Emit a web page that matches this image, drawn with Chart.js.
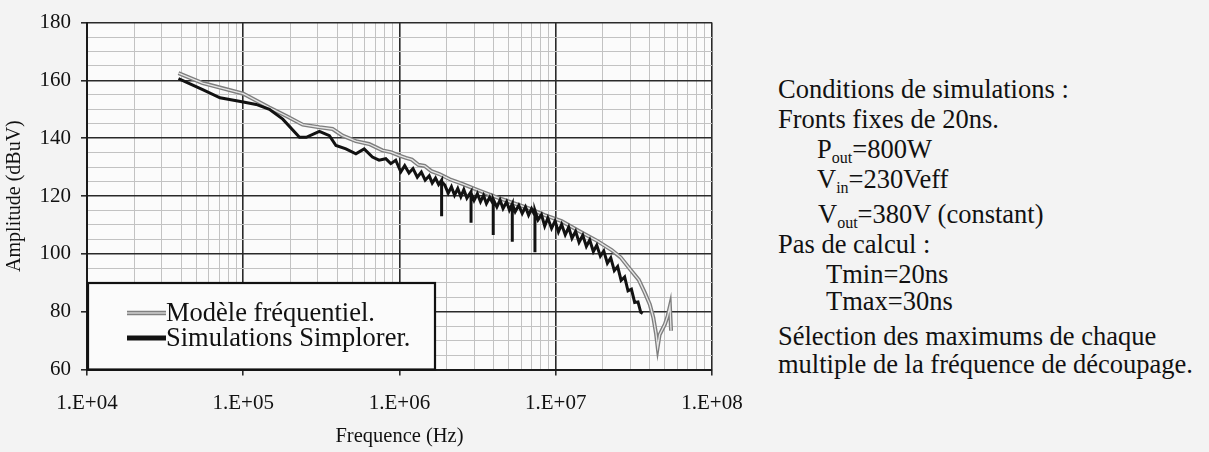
<!DOCTYPE html>
<html>
<head>
<meta charset="utf-8">
<script src="https://cdn.jsdelivr.net/npm/chart.js@4"></script>
<style>
  body { margin: 0; background: #f3f3f3; width: 1209px; height: 452px; overflow: hidden; font-family: 'Liberation Serif', 'Times New Roman', serif; }
  #wrap { position: absolute; left: 0; top: 0; width: 760px; height: 452px; }
  .note { position: absolute; font-size: 26.5px; line-height: 26.5px; color: #111; white-space: nowrap; }
  .note .s { font-size: 16px; position: relative; top: 5px; }
</style>
</head>
<body>
<div id="wrap"><canvas id="emc"></canvas></div>

<div class="note" style="left:778px; top:76px;">Conditions de simulations :</div>
<div class="note" style="left:778px; top:106px;">Fronts fixes de 20ns.</div>
<div class="note" style="left:817px; top:136px;">P<span class="s">out</span>=800W</div>
<div class="note" style="left:817px; top:166px;">V<span class="s">in</span>=230Veff</div>
<div class="note" style="left:818px; top:201px;">V<span class="s">out</span>=380V (constant)</div>
<div class="note" style="left:778px; top:231px;">Pas de calcul :</div>
<div class="note" style="left:826px; top:261px;">Tmin=20ns</div>
<div class="note" style="left:826px; top:288px;">Tmax=30ns</div>
<div class="note" style="left:778px; top:323px;">Sélection des maximums de chaque</div>
<div class="note" style="left:778px; top:351px;">multiple de la fréquence de découpage.</div>

<script>
// Modèle fréquentiel (gris)
const modelFreq = [3.85e4, 5.5e4, 7.5e4, 1.0e5, 1.47e5, 1.9e5, 2.4e5, 3.07e5, 3.73e5, 4.32e5, 5.26e5, 6.39e5, 7.77e5, 8.8e5,
  1.0e6, 1.1e6, 1.2e6, 1.32e6, 1.45e6, 1.6e6, 1.8e6, 2.1e6, 2.5e6, 3.2e6, 4.08e6, 5.2e6, 6.67e6, 8.5e6,
  1.09e7, 1.4e7, 1.84e7, 2.28e7, 2.6e7, 3.0e7, 3.4e7, 3.72e7, 4.0e7, 4.21e7, 4.38e7, 4.49e7, 4.62e7, 4.76e7, 5.0e7, 5.2e7, 5.38e7, 5.47e7];
const modelAmp = [162.5, 159.1, 157.2, 155.4, 150.6, 147.6, 144.7, 143.8, 143.2, 140.9, 139.0, 138.0, 135.8, 135.2,
  134.0, 133.2, 132.6, 130.8, 130.4, 128.6, 127.6, 125.8, 124.3, 122.0, 119.8, 117.8, 115.8, 113.4,
  111.3, 108.0, 104.5, 101.3, 98.8, 94.6, 91.0, 86.5, 82.5, 78.0, 72.5, 67.7, 72.0, 73.4, 75.7, 78.5, 81.9, 73.4];

// Simulations Simplorer (noir)
const simFreq = [3.85e4, 5.5e4, 7.1e4, 1.0e5, 1.21e5, 1.47e5, 1.79e5, 2.29e5, 2.53e5, 3.07e5, 3.56e5, 3.92e5, 4.54e5, 5.26e5,
  5.94e5, 6.71e5, 7.4e5, 8.17e5, 8.79e5, 9.46e5, 1.02e6, 1.08e6, 1.15e6, 1.22e6, 1.30e6, 1.38e6, 1.46e6, 1.55e6,
  1.62e6, 1.70e6, 1.78e6, 1.86e6, 1.86e6, 1.86e6, 1.95e6, 2.05e6, 2.15e6, 2.25e6, 2.36e6, 2.47e6, 2.58e6, 2.70e6,
  2.87e6, 2.87e6, 2.87e6, 3.00e6, 3.15e6, 3.30e6, 3.45e6, 3.60e6, 3.78e6, 3.98e6, 3.98e6, 3.98e6, 4.20e6, 4.40e6,
  4.60e6, 4.85e6, 5.05e6, 5.27e6, 5.27e6, 5.27e6, 5.50e6, 5.80e6, 6.10e6, 6.40e6, 6.70e6, 7.00e6, 7.36e6, 7.36e6,
  7.36e6, 7.70e6, 8.10e6, 8.50e6, 8.90e6, 9.40e6, 9.90e6, 1.04e7, 1.09e7, 1.15e7, 1.21e7, 1.27e7, 1.34e7, 1.41e7,
  1.49e7, 1.57e7, 1.65e7, 1.74e7, 1.83e7, 1.93e7, 2.03e7, 2.14e7, 2.25e7, 2.37e7, 2.49e7, 2.62e7, 2.76e7, 2.90e7,
  3.05e7, 3.20e7, 3.36e7, 3.50e7, 3.60e7];
const simAmp = [160.6, 156.8, 154.0, 152.5, 151.7, 150.0, 146.6, 140.3, 140.3, 142.4, 140.9, 137.5, 136.3, 134.6,
  136.3, 133.5, 132.4, 132.9, 131.2, 132.4, 128.4, 130.5, 128.0, 129.5, 126.5, 128.3, 125.5, 127.0,
  124.5, 126.2, 124.0, 125.5, 113.0, 125.0, 123.8, 121.0, 123.2, 120.3, 122.6, 119.8, 122.2, 119.3,
  121.5, 110.8, 121.0, 118.5, 120.8, 118.0, 120.2, 117.4, 119.6, 117.2, 106.5, 118.9, 116.2, 118.6,
  115.7, 118.0, 115.2, 117.3, 104.2, 117.2, 114.6, 116.8, 114.0, 116.2, 113.4, 115.6, 113.2, 100.6,
  115.0, 111.8, 113.6, 109.6, 112.4, 108.8, 111.4, 107.6, 110.2, 106.6, 109.2, 105.4, 107.8, 104.0,
  106.4, 102.6, 104.8, 100.8, 103.0, 99.2, 101.0, 96.8, 98.6, 94.2, 95.6, 90.8, 92.0, 87.2,
  87.8, 83.2, 83.4, 79.8, 79.4];

const seriesNames = ['Modèle fréquentiel.', 'Simulations Simplorer.'];
const xDecades = [4, 5, 6, 7, 8];

const FONT = "'Liberation Serif', 'Times New Roman', serif";
const toPts = (xs, ys) => xs.map((x, i) => ({ x, y: ys[i] }));
const isDecade = v => Math.abs(Math.log10(v) - Math.round(Math.log10(v))) < 1e-9;

const plotBg = {
  id: 'plotBg',
  beforeDraw(chart) {
    const { ctx, chartArea: a } = chart;
    ctx.save();
    ctx.fillStyle = '#fbfbfb';
    ctx.fillRect(a.left, a.top, a.right - a.left, a.bottom - a.top);
    ctx.restore();
  }
};

// légende encadrée dans le coin bas gauche
const boxLegend = {
  id: 'boxLegend',
  afterDraw(chart) {
    const { ctx, chartArea: a } = chart;
    const x0 = a.left, y0 = 283, x1 = 435, y1 = a.bottom;
    ctx.save();
    ctx.fillStyle = '#fbfbfb';
    ctx.fillRect(x0, y0, x1 - x0, y1 - y0);
    ctx.strokeStyle = '#111';
    ctx.lineWidth = 2.2;
    ctx.strokeRect(x0 + 1, y0, x1 - x0 - 1, y1 - y0);
    const rows = [313, 338];
    // gris double
    ctx.lineCap = 'butt';
    ctx.strokeStyle = '#808080'; ctx.lineWidth = 4.5;
    ctx.beginPath(); ctx.moveTo(127, rows[0]); ctx.lineTo(166, rows[0]); ctx.stroke();
    ctx.strokeStyle = '#d0d0d0'; ctx.lineWidth = 1.5;
    ctx.beginPath(); ctx.moveTo(127, rows[0]); ctx.lineTo(166, rows[0]); ctx.stroke();
    ctx.strokeStyle = '#121212'; ctx.lineWidth = 5;
    ctx.beginPath(); ctx.moveTo(127, rows[1]); ctx.lineTo(166, rows[1]); ctx.stroke();
    ctx.fillStyle = '#111';
    ctx.font = '26.5px ' + FONT;
    ctx.textBaseline = 'middle';
    ctx.fillText(seriesNames[0], 166, rows[0] + 1);
    ctx.fillText(seriesNames[1], 166, rows[1] + 1);
    ctx.restore();
  }
};

new Chart(document.getElementById('emc'), {
  type: 'scatter',
  data: {
    datasets: [
      { label: seriesNames[0], data: toPts(modelFreq, modelAmp), showLine: true, borderColor: '#7e7e7e', borderWidth: 4, pointRadius: 0, order: 3 },
      { label: 'modele-centre', data: toPts(modelFreq, modelAmp), showLine: true, borderColor: '#e6e6e6', borderWidth: 1.3, pointRadius: 0, order: 2 },
      { label: seriesNames[1], data: toPts(simFreq, simAmp), showLine: true, borderColor: '#121212', borderWidth: 3, pointRadius: 0, order: 1 }
    ]
  },
  options: {
    responsive: true,
    maintainAspectRatio: false,
    animation: false,
    layout: { padding: { top: 16, right: 48, left: 0, bottom: 0 } },
    plugins: { legend: { display: false }, tooltip: { enabled: false } },
    scales: {
      x: {
        type: 'logarithmic',
        min: 1e4,
        max: 1e8,
        afterBuildTicks(scale) {
          const ticks = [];
          xDecades.forEach(e => {
            for (let m = 1; m <= 9; m++) {
              if (e === 8 && m > 1) break;
              ticks.push({ value: m * Math.pow(10, e) });
            }
          });
          scale.ticks = ticks;
        },
        afterFit(scale) { scale.height = 82.5; },
        grid: {
          color: c => isDecade(c.tick.value) ? '#2a2a2a' : '#c2c2c2',
          lineWidth: c => isDecade(c.tick.value) ? 1.6 : 1,
          tickColor: c => isDecade(c.tick.value) ? '#2a2a2a' : 'rgba(0,0,0,0)',
          tickLength: 6
        },
        border: { color: '#1a1a1a', width: 2 },
        ticks: {
          autoSkip: false,
          maxRotation: 0,
          padding: 15,
          color: '#111',
          font: { family: FONT, size: 21 },
          callback: v => isDecade(v) ? '1.E+0' + Math.round(Math.log10(v)) : ''
        },
        title: { display: true, text: 'Frequence (Hz)', color: '#111', font: { family: FONT, size: 20.5 }, padding: { top: 0, bottom: 3 } }
      },
      y: {
        min: 60,
        max: 180,
        afterFit(scale) { scale.width = 87; },
        grid: {
          color: c => c.tick.value % 20 === 0 ? '#2a2a2a' : '#c2c2c2',
          lineWidth: c => c.tick.value % 20 === 0 ? 1.6 : 1,
          tickColor: c => c.tick.value % 20 === 0 ? '#2a2a2a' : 'rgba(0,0,0,0)',
          tickLength: 6
        },
        border: { color: '#1a1a1a', width: 2 },
        ticks: {
          stepSize: 5,
          autoSkip: false,
          padding: 10,
          color: '#111',
          font: { family: FONT, size: 21 },
          callback: v => v % 20 === 0 ? String(v) : ''
        },
        title: { display: true, text: 'Amplitude (dBuV)', color: '#111', font: { family: FONT, size: 20 }, padding: { top: 3, bottom: 0 } }
      }
    }
  },
  plugins: [plotBg, boxLegend]
});
</script>
</body>
</html>
